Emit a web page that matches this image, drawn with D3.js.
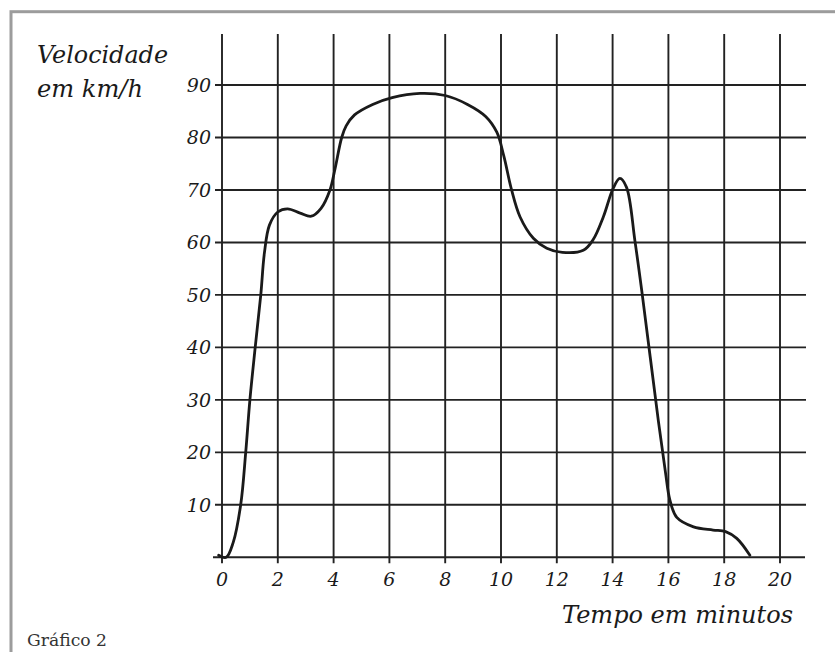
<!DOCTYPE html>
<html>
<head>
<meta charset="utf-8">
<script src="https://cdn.jsdelivr.net/npm/d3@7"></script>
<style>
  html, body { margin: 0; padding: 0; background: #fff; }
  svg { display: block; }
  .lbl { font-family: "DejaVu Serif", serif; font-style: italic; fill: #1a1a1a; }
</style>
</head>
<body>
<svg id="chart" width="835" height="652"></svg>
<script>
// ---- data ----
const xTicks = [0, 2, 4, 6, 8, 10, 12, 14, 16, 18, 20];
const yTicks = [10, 20, 30, 40, 50, 60, 70, 80, 90];
const timeMin = [-0.12, 0.15, 0.4, 0.67, 0.85, 1.0, 1.19, 1.39, 1.52, 1.7, 2.0, 2.35, 2.8, 3.2, 3.55, 3.87, 4.05, 4.29, 4.45, 4.75, 5.4, 6.1, 7.1, 8.0, 8.8, 9.45, 9.85, 10.1, 10.38, 10.68, 11.16, 11.64, 12.2, 12.95, 13.3, 13.67, 14.02, 14.26, 14.5, 14.8, 15.06, 15.64, 15.9, 16.05, 16.3, 16.9, 17.6, 18.05, 18.45, 18.92];
const speedKmh = [0.4, 0, 2.8, 10, 20, 30, 40, 50, 58, 63.3, 65.8, 66.4, 65.6, 65, 66.5, 70, 74, 80, 82.2, 84.3, 86.3, 87.6, 88.4, 88, 86.3, 84, 81, 76.5, 70, 64.9, 60.8, 58.9, 58.1, 58.5, 60.5, 64.9, 70.3, 72.2, 70.5, 60.3, 50.2, 26, 16, 11, 7.6, 5.8, 5.2, 4.9, 3.6, 0.4];
const yTitle = ["Velocidade", "em km/h"];
const xTitle = "Tempo em minutos";
const caption = "Gráfico 2";

// ---- drawing ----
const svg = d3.select("#chart");
const x = d3.scaleLinear().domain([0, 20]).range([222, 780]);
const y = d3.scaleLinear().domain([0, 90]).range([557.3, 85]);

// frame (only top and left visible)
svg.append("rect")
  .attr("x", 11).attr("y", 11.7).attr("width", 900).attr("height", 700)
  .attr("fill", "none").attr("stroke", "#9c9c9c").attr("stroke-width", 3);

const grid = svg.append("g").attr("stroke", "#222").attr("stroke-width", 1.9);

// vertical grid lines
grid.selectAll("line.v").data(xTicks).join("line")
  .attr("class", "v")
  .attr("x1", d => x(d)).attr("x2", d => x(d))
  .attr("y1", 34).attr("y2", y(0) + 6);

// horizontal grid lines
grid.selectAll("line.h").data(yTicks).join("line")
  .attr("class", "h")
  .attr("x1", 215).attr("x2", 806)
  .attr("y1", d => y(d)).attr("y2", d => y(d));

// base axis
grid.append("line")
  .attr("x1", 213).attr("x2", 805)
  .attr("y1", y(0)).attr("y2", y(0));

// y tick labels
svg.selectAll("text.yt").data(yTicks).join("text")
  .attr("class", "lbl yt")
  .attr("x", 211).attr("y", d => y(d)).attr("dy", "0.36em")
  .attr("text-anchor", "end").attr("font-size", 19)
  .text(d => d);

// x tick labels
svg.selectAll("text.xt").data(xTicks).join("text")
  .attr("class", "lbl xt")
  .attr("x", d => x(d)).attr("y", 586)
  .attr("text-anchor", "middle").attr("font-size", 19)
  .text(d => d);

// axis titles
svg.append("text").attr("class", "lbl")
  .attr("x", 37).attr("y", 63).attr("font-size", 25)
  .attr("textLength", 131).attr("lengthAdjust", "spacingAndGlyphs")
  .text(yTitle[0]);
svg.append("text").attr("class", "lbl")
  .attr("x", 37).attr("y", 97).attr("font-size", 25)
  .attr("textLength", 106).attr("lengthAdjust", "spacingAndGlyphs")
  .text(yTitle[1]);
svg.append("text").attr("class", "lbl")
  .attr("x", 562).attr("y", 623).attr("font-size", 25)
  .attr("textLength", 231).attr("lengthAdjust", "spacingAndGlyphs")
  .text(xTitle);

// caption
svg.append("text")
  .attr("x", 27).attr("y", 646)
  .attr("font-family", "'DejaVu Serif', serif").attr("font-size", 16)
  .attr("fill", "#333")
  .attr("textLength", 80).attr("lengthAdjust", "spacingAndGlyphs")
  .text(caption);

// speed curve
const pts = timeMin.map((t, i) => [t, speedKmh[i]]);
const line = d3.line()
  .x(d => x(d[0])).y(d => y(d[1]))
  .curve(d3.curveCatmullRom.alpha(0.5));
svg.append("path")
  .datum(pts)
  .attr("d", line)
  .attr("fill", "none")
  .attr("stroke", "#1a1a1a")
  .attr("stroke-width", 2.8)
  .attr("stroke-linejoin", "round")
  .attr("stroke-linecap", "round");
</script>
</body>
</html>
